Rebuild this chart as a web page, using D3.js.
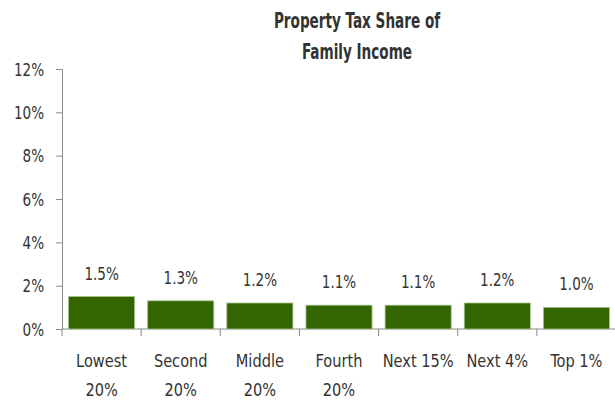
<!DOCTYPE html>
<html>
<head>
<meta charset="utf-8">
<script src="https://cdnjs.cloudflare.com/ajax/libs/d3/7.8.5/d3.min.js"></script>
<style>
  body { margin: 0; background: #fff; }
  text { font-family: "Liberation Sans Narrow", "DejaVu Sans Condensed", "DejaVu Sans", sans-serif; font-stretch: condensed; fill: #333; }
</style>
</head>
<body>
<svg id="chart" width="615" height="401"></svg>
<script>
var categories = ["Lowest\n20%", "Second\n20%", "Middle\n20%", "Fourth\n20%", "Next 15%", "Next 4%", "Top 1%"];
var values = [1.5, 1.3, 1.2, 1.1, 1.1, 1.2, 1.0];
var yTicks = [0, 2, 4, 6, 8, 10, 12];
var titleLines = ["Property Tax Share of", "Family Income"];

var svg = d3.select("#chart");

var mLeft = 62, mRight = 616, mTop = 69, mBottom = 329;

var x = d3.scaleBand()
    .domain(categories)
    .range([mLeft, mRight])
    .paddingInner(0.165)
    .paddingOuter(0.0825);

var y = d3.scaleLinear()
    .domain([0, 12])
    .range([mBottom, mTop]);

// squeeze text sideways, the source font is a condensed face
function squeeze(sel, cx, cy, s) {
  sel.attr("transform", "translate(" + cx + "," + cy + ") scale(" + s + ",1)");
}

// title
svg.selectAll(".title")
    .data(titleLines)
    .enter()
  .append("text")
    .attr("class", "title")
    .attr("text-anchor", "middle")
    .style("font-weight", "bold")
    .style("font-size", "21px")
    .each(function(d, i) { squeeze(d3.select(this), 357, 28 + i * 31, 0.72); })
    .text(function(d) { return d; });

// y axis
var yAxis = svg.append("g")
    .attr("transform", "translate(" + mLeft + ",0)")
    .call(d3.axisLeft(y).tickValues(yTicks).tickSize(6).tickPadding(0)
      .tickFormat(function(d) { return d + "%"; }));
yAxis.select(".domain").attr("stroke", "#888");
yAxis.selectAll(".tick line").attr("stroke", "#888");
yAxis.selectAll(".tick text")
    .style("font-size", "17.5px")
    .attr("fill", "#333")
    .attr("x", null)
    .attr("dy", null)
    .attr("transform", "translate(-18,6) scale(0.86,1)");

// x axis
var band = x.step();
var xAxis = svg.append("g")
    .attr("transform", "translate(0," + mBottom + ")");
xAxis.append("line")
    .attr("x1", mLeft).attr("x2", mRight)
    .attr("stroke", "#888");
xAxis.selectAll(".xtick")
    .data(categories)
    .enter()
  .append("line")
    .attr("class", "xtick")
    .attr("x1", function(d) { return x(d) - x.paddingInner() * band / 2; })
    .attr("x2", function(d) { return x(d) - x.paddingInner() * band / 2; })
    .attr("y1", 0).attr("y2", 7)
    .attr("stroke", "#888");

var xLines = [];
categories.forEach(function(c) {
  c.split("\n").forEach(function(t, i) { xLines.push({ c: c, t: t, i: i }); });
});

xAxis.selectAll(".xlab")
    .data(xLines)
    .enter()
  .append("text")
    .attr("class", "xlab")
    .attr("text-anchor", "middle")
    .style("font-size", "18px")
    .each(function(d) { squeeze(d3.select(this), x(d.c) + x.bandwidth() / 2, 38 + d.i * 29, 0.9); })
    .text(function(d) { return d.t; });

// bars
var data = categories.map(function(c, i) { return { c: c, v: values[i] }; });

svg.selectAll(".bar")
    .data(data)
    .enter()
  .append("rect")
    .attr("class", "bar")
    .attr("x", function(d) { return x(d.c); })
    .attr("width", x.bandwidth())
    .attr("y", function(d) { return y(d.v); })
    .attr("height", function(d) { return mBottom - y(d.v); })
    .attr("fill", "#336600")
    .attr("stroke", "#a8c490")
    .attr("stroke-width", 0.8);

svg.selectAll(".vlab")
    .data(data)
    .enter()
  .append("text")
    .attr("class", "vlab")
    .attr("text-anchor", "middle")
    .style("font-size", "17.5px")
    .each(function(d) { squeeze(d3.select(this), x(d.c) + x.bandwidth() / 2, y(d.v) - 17, 0.86); })
    .text(function(d) { return d.v.toFixed(1) + "%"; });
</script>
</body>
</html>
